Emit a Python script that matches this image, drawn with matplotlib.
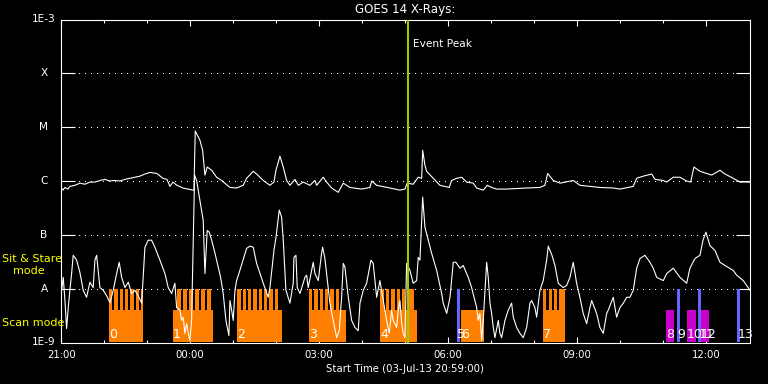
import numpy as np
import matplotlib
matplotlib.use('Agg')
import matplotlib.pyplot as plt

plt.rcParams['font.family'] = ['DejaVu Sans']
plt.rcParams['lines.scale_dashes'] = False

# ---------------- data (time in minutes after 21:00 on 03-Jul-13) ----------------
long_t = [-1, 2.4, 5.2, 9.3, 12.1, 19.1, 26.1, 33.1, 40.0, 47.0, 54.0, 61.0, 68.0, 74.9, 81.9, 88.9,
          95.9, 102.8, 109.8, 116.8, 123.8, 133.5, 141.9, 147.5, 151.7, 155.9, 161.4, 169.8, 183.8,
          185.2, 187.0, 190.7, 193.5, 197.3, 200.5, 203.7, 209.9, 216.8, 223.8, 235.4, 244.7, 253.9,
          258.7, 267.9, 272.6, 281.9, 291.2, 296.8, 299.6, 305.2, 309.8, 314.5, 319.1, 326.1, 330.7,
          337.7, 347.0, 354.0, 356.4, 365.6, 370.3, 377.3, 386.5, 393.5, 402.8, 419.1, 430.7, 433.1,
          440.1, 458.6, 472.6, 479.6, 482.8, 491.1, 498.1, 502.9, 504.3, 507.5, 509.8, 519.1, 528.4,
          541.4, 544.7, 551.7, 558.7, 565.7, 574.9, 579.6, 588.8, 594.4, 600.5, 607.5, 621.5, 649.4,
          667.9, 674.9, 678.7, 686.5, 695.8, 714.4, 723.7, 737.7, 751.6, 770.2, 779.6, 798.1, 802.9,
          812.1, 823.8, 828.4, 840.0, 844.7, 853.9, 863.3, 872.6, 878.2, 882.8, 891.2, 907.5, 919.1,
          926.1, 937.6, 947.0, 961.0]
long_log = [-6.10, -6.17, -6.12, -6.15, -6.10, -6.08, -6.04, -6.06, -6.02, -6.02, -5.99, -5.97, -6.00,
            -5.99, -6.00, -5.97, -5.95, -5.93, -5.91, -5.87, -5.84, -5.86, -5.95, -5.97, -6.10, -6.02,
            -6.08, -6.13, -6.17, -6.17, -5.07, -5.17, -5.24, -5.43, -5.89, -5.74, -5.80, -5.93, -5.99,
            -6.12, -6.13, -6.08, -5.95, -5.82, -5.87, -5.99, -6.08, -6.02, -5.80, -5.54, -5.74, -5.99,
            -6.08, -5.97, -6.08, -6.02, -6.08, -5.99, -6.08, -5.93, -6.02, -6.13, -6.21, -6.04, -6.12,
            -6.15, -6.12, -6.00, -6.08, -6.13, -6.17, -6.15, -6.04, -6.06, -5.93, -5.95, -5.43, -5.71,
            -5.82, -5.95, -6.08, -6.12, -5.99, -5.95, -5.93, -6.02, -6.04, -6.13, -6.17, -6.08, -6.12,
            -6.15, -6.15, -6.13, -6.12, -6.08, -5.86, -5.99, -6.04, -5.99, -6.08, -6.10, -6.12, -6.13,
            -6.15, -6.10, -5.95, -5.91, -5.87, -5.97, -5.99, -6.02, -5.93, -5.93, -6.00, -6.02, -5.74,
            -5.82, -5.89, -5.80, -5.87, -5.95, -6.02, -6.02]

short_t = [-0.8, 0.6, 2.8, 5.2, 7.5, 9.8, 12.1, 14.5, 16.7, 21.5, 26.1, 30.7, 35.4, 40.0, 44.6, 47.0,
           49.4, 51.6, 54.0, 58.6, 63.3, 68.0, 72.6, 77.3, 80.9, 84.3, 88.9, 93.5, 98.2, 102.8, 107.4,
           112.2, 116.8, 121.4, 126.1, 130.7, 137.7, 144.7, 149.3, 154.0, 158.6, 161.0, 165.6, 168.0,
           170.2, 172.6, 175.0, 177.2, 179.6, 181.9, 186.1, 188.9, 193.5, 198.1, 200.5, 203.7, 206.5,
           209.9, 214.5, 219.1, 222.4, 226.0, 229.8, 234.0, 235.4, 237.8, 240.0, 242.4, 244.7, 249.3,
           258.7, 263.3, 267.9, 272.6, 281.9, 288.8, 291.2, 296.8, 299.6, 304.2, 307.5, 309.8, 313.5,
           319.1, 323.7, 324.7, 327.5, 329.3, 333.1, 340.0, 342.4, 344.6, 351.6, 354.0, 358.6, 363.3,
           364.7, 367.9, 374.9, 379.5, 384.3, 387.9, 391.2, 393.5, 395.8, 400.5, 405.2, 409.8, 414.4,
           416.8, 421.4, 426.1, 432.1, 435.3, 440.1, 444.7, 449.3, 454.0, 457.7, 461.0, 463.2, 468.0,
           470.2, 472.6, 475.0, 477.2, 479.6, 481.9, 486.5, 491.1, 495.9, 498.1, 500.5, 504.3, 507.5,
           512.1, 516.8, 523.8, 530.8, 533.0, 537.8, 542.4, 547.0, 550.7, 556.3, 560.9, 567.9, 572.6,
           579.6, 581.8, 584.2, 586.6, 588.8, 593.6, 595.8, 598.2, 600.5, 602.8, 605.1, 609.8, 612.1,
           614.5, 619.1, 623.7, 628.4, 630.7, 635.4, 640.0, 644.6, 649.4, 654.0, 656.3, 660.9, 663.3,
           667.9, 672.5, 677.3, 679.5, 684.7, 688.9, 693.5, 700.4, 705.2, 709.8, 714.4, 719.1, 723.7,
           728.3, 733.1, 737.7, 740.1, 747.0, 751.6, 756.3, 761.0, 763.2, 770.2, 774.9, 779.6, 784.2,
           788.9, 793.5, 798.1, 802.9, 807.5, 814.4, 821.4, 826.0, 830.8, 840.0, 844.7, 853.9, 863.3,
           872.6, 877.2, 884.2, 891.2, 895.4, 899.5, 905.1, 912.1, 919.1, 926.1, 937.6, 942.4, 951.6,
           961.0]
short_log = [-7.72, -8.03, -7.79, -8.22, -8.74, -8.35, -8.03, -7.72, -7.38, -7.47, -7.70, -8.03, -8.16,
             -7.88, -7.98, -7.47, -7.38, -7.66, -7.98, -8.03, -8.13, -8.26, -8.03, -7.72, -7.51, -7.79,
             -7.98, -7.88, -8.09, -8.03, -8.13, -8.27, -7.23, -7.10, -7.10, -7.23, -7.47, -7.72, -7.98,
             -8.09, -7.90, -8.35, -8.40, -8.59, -8.53, -8.83, -8.65, -8.83, -8.96, -8.59, -5.89, -5.99,
             -6.36, -6.73, -7.72, -6.92, -6.95, -7.10, -7.34, -7.60, -7.79, -8.09, -8.59, -8.87, -8.22,
             -8.40, -8.59, -8.03, -7.85, -7.66, -7.25, -7.21, -7.23, -7.53, -7.90, -8.16, -7.98, -7.29,
             -7.05, -6.54, -6.67, -7.10, -8.03, -8.27, -7.90, -7.42, -7.38, -7.98, -8.09, -7.79, -7.75,
             -7.98, -7.51, -7.72, -7.85, -7.34, -7.23, -7.44, -8.27, -8.59, -8.91, -8.78, -8.16, -7.53,
             -7.60, -8.16, -8.59, -8.72, -8.78, -8.27, -8.03, -7.90, -7.47, -7.53, -8.16, -7.85, -8.22,
             -8.59, -8.83, -8.40, -8.59, -8.72, -8.40, -8.22, -8.65, -8.83, -8.91, -7.53, -7.66, -7.90,
             -7.85, -7.42, -7.47, -6.30, -6.86, -7.10, -7.34, -7.66, -8.09, -8.27, -8.46, -8.16, -7.51,
             -7.51, -7.62, -7.57, -7.79, -7.98, -8.35, -8.59, -8.46, -8.96, -8.59, -7.51, -7.79, -8.27,
             -8.46, -8.72, -8.91, -8.59, -8.83, -8.91, -8.59, -8.40, -8.27, -8.53, -8.72, -8.83, -8.91,
             -8.72, -8.27, -8.22, -8.35, -8.53, -8.03, -7.85, -7.47, -7.21, -7.38, -7.57, -7.90, -7.98,
             -7.94, -7.79, -7.51, -7.90, -8.16, -8.46, -8.65, -8.35, -8.22, -8.46, -8.72, -8.83, -8.46,
             -8.40, -8.16, -8.53, -8.35, -8.27, -8.16, -8.16, -8.03, -7.62, -7.44, -7.38, -7.51, -7.62,
             -7.79, -7.85, -7.72, -7.62, -7.79, -7.90, -7.62, -7.44, -7.38, -7.10, -6.95, -7.20, -7.29,
             -7.51, -7.57, -7.66, -7.75, -7.85, -8.03]

# scan-mode blocks (orange) : start / end in minutes
scan_start = [66.6, 155.9, 245.6, 345.6, 444.7, 557.7, 672.5]
scan_end = [114.4, 211.7, 307.9, 397.2, 495.9, 589.8, 703.2]
# sit & stare dwell intervals inside the scan groups (orange teeth)
ss_start = [66.6, 74.0, 81.5, 88.9, 96.3, 103.9, 111.2,
            161.0, 169.4, 177.8, 186.1, 194.5, 202.9,
            245.6, 253.1, 260.5, 267.9, 275.4, 282.8, 290.2, 297.8,
            345.6, 353.0, 360.5, 367.9, 375.3, 382.9,
            444.7, 453.1, 460.4, 468.0, 475.4, 482.8,
            672.5, 680.1, 687.0, 694.9]
ss_end = [71.2, 78.6, 86.1, 93.5, 100.9, 108.5, 114.4,
          166.6, 175.0, 183.4, 191.7, 200.1, 208.5,
          250.2, 257.7, 265.1, 272.5, 280.0, 287.4, 294.8, 302.4,
          350.2, 357.6, 365.1, 372.5, 379.9, 387.5,
          450.3, 457.7, 465.2, 472.6, 480.0, 492.1,
          676.7, 684.7, 692.0, 703.2]
# other observations
purple_start = [843.7, 873.0, 892.6]
purple_end = [854.9, 885.2, 903.7]
blue_start = [552.5, 859.5, 888.8, 943.2]
blue_dur = 3.8
# observation numbers, at the start of each observation
obs_labels = ['0', '1', '2', '3', '4', '5', '6', '7', '8', '9', '10', '11', '12', '13']
obs_start = [66.6, 155.9, 245.6, 345.6, 444.7, 552.5, 557.7, 672.5, 843.7, 859.5, 873.0, 888.8, 892.6, 943.2]
event_peak = 483.3

scan_level = 4.0e-9
ss_level = 1.0e-8
ymin, ymax = 1e-9, 1e-3

level_vals = [1e-9, 1e-8, 1e-7, 1e-6, 1e-5, 1e-4, 1e-3]
level_labels = ['1E-9', 'A', 'B', 'C', 'M', 'X', '1E-3']
xtick_vals = [0, 180, 360, 540, 720, 900]
xtick_labels = ['21:00', '00:00', '03:00', '06:00', '09:00', '12:00']
xminor_vals = [60, 120, 240, 300, 420, 480, 600, 660, 780, 840]
x_range = (-1, 961)

ORANGE = '#FF8000'
PURPLE = '#CC00CC'
BLUE = '#6464FF'
GREEN = '#99CC00'
YELLOW = '#FFFF00'

W, H = 768, 384
fig = plt.figure(figsize=(W / 100, H / 100), dpi=100, facecolor='black')
L, R, T, B = 60.5, 750.0, 19.5, 342.5
ax = fig.add_axes([L / W, 1 - B / H, (R - L) / W, (B - T) / H])
ax.set_facecolor('black')
ax.set_yscale('log')
ax.set_ylim(ymin, ymax)
ax.set_xlim(*x_range)

# dotted grid at flare levels
for v in level_vals[1:-1]:
    ax.axhline(v, color='white', lw=0.75, dashes=(0.72, 3.6), antialiased=False, zorder=1)

# bars
ss_s = np.array(ss_start); ss_e = np.array(ss_end)
sc_s = np.array(scan_start); sc_e = np.array(scan_end)
ax.bar(sc_s, scan_level - ymin, width=sc_e - sc_s, bottom=ymin, align='edge', color=ORANGE, lw=0, zorder=2)
ax.bar(ss_s, ss_level - ymin, width=ss_e - ss_s, bottom=ymin, align='edge', color=ORANGE, lw=0, zorder=2)
pu_s = np.array(purple_start); pu_e = np.array(purple_end)
ax.bar(pu_s, scan_level - ymin, width=pu_e - pu_s, bottom=ymin, align='edge', color=PURPLE, lw=0, zorder=2)
ax.bar(np.array(blue_start), ss_level - ymin, width=blue_dur, bottom=ymin, align='edge', color=BLUE, lw=0, zorder=2)

# curves
ax.plot(long_t, 10 ** np.array(long_log), color='white', lw=0.8, zorder=3)
ax.plot(short_t, 10 ** np.array(short_log), color='white', lw=0.8, zorder=3)

# event peak
ax.axvline(event_peak, color=GREEN, lw=1.5, zorder=4)
ax.text(event_peak + 7.5, 0.925, 'Event Peak', transform=ax.get_xaxis_transform(),
        color='white', fontsize=7.6, ha='left', va='center', zorder=6)

# observation numbers
for lab, s in zip(obs_labels, obs_start):
    ax.text(s, 0.014, lab, transform=ax.get_xaxis_transform(), color='white',
            fontsize=9, ha='left', va='baseline', zorder=6)

# axes styling
for sp in ax.spines.values():
    sp.set_color('white')
    sp.set_linewidth(0.8)
ax.set_yticks(level_vals[1:-1])
ax.set_yticklabels([])
ax.yaxis.set_minor_locator(matplotlib.ticker.NullLocator())
ax.tick_params(axis='y', which='major', direction='in', length=10, width=0.8,
               colors='white', left=True, right=True)
ax.set_xticks(xtick_vals)
ax.set_xticklabels([])
ax.set_xticks(xminor_vals, minor=True)
ax.tick_params(axis='x', which='major', direction='in', length=4.3, width=0.8,
               colors='white', top=True, bottom=True)
ax.tick_params(axis='x', which='minor', direction='in', length=2.2, width=0.8,
               colors='white', top=True, bottom=True)

# y level labels
ytr = ax.get_yaxis_transform()
for v, lab in zip(level_vals, level_labels):
    ax.text((44 - L) / (R - L), v, lab, transform=ytr, color='white', fontsize=7.6,
            ha='center', va='center', clip_on=False)

# x tick labels
xtr = ax.get_xaxis_transform()
for v, lab in zip(xtick_vals, xtick_labels):
    ax.text(v, -(355 - B) / (B - T), lab, transform=xtr, color='white', fontsize=7.3,
            ha='center', va='center', clip_on=False)

# titles and side labels
fig.text(405.5 / W, 1 - 9 / H, 'GOES 14 X-Rays:', color='white', fontsize=8.6, ha='center', va='center')
fig.text(405.5 / W, 1 - 368.5 / H, 'Start Time (03-Jul-13 20:59:00)', color='white', fontsize=7.3,
         ha='center', va='center')
fig.text(2 / W, 1 - 258.5 / H, 'Sit & Stare', color=YELLOW, fontsize=8.0, ha='left', va='center')
fig.text(12.5 / W, 1 - 271 / H, 'mode', color=YELLOW, fontsize=8.0, ha='left', va='center')
fig.text(2 / W, 1 - 323.5 / H, 'Scan mode', color=YELLOW, fontsize=8.0, ha='left', va='center')

fig.savefig('out.png', dpi=100, facecolor='black')
